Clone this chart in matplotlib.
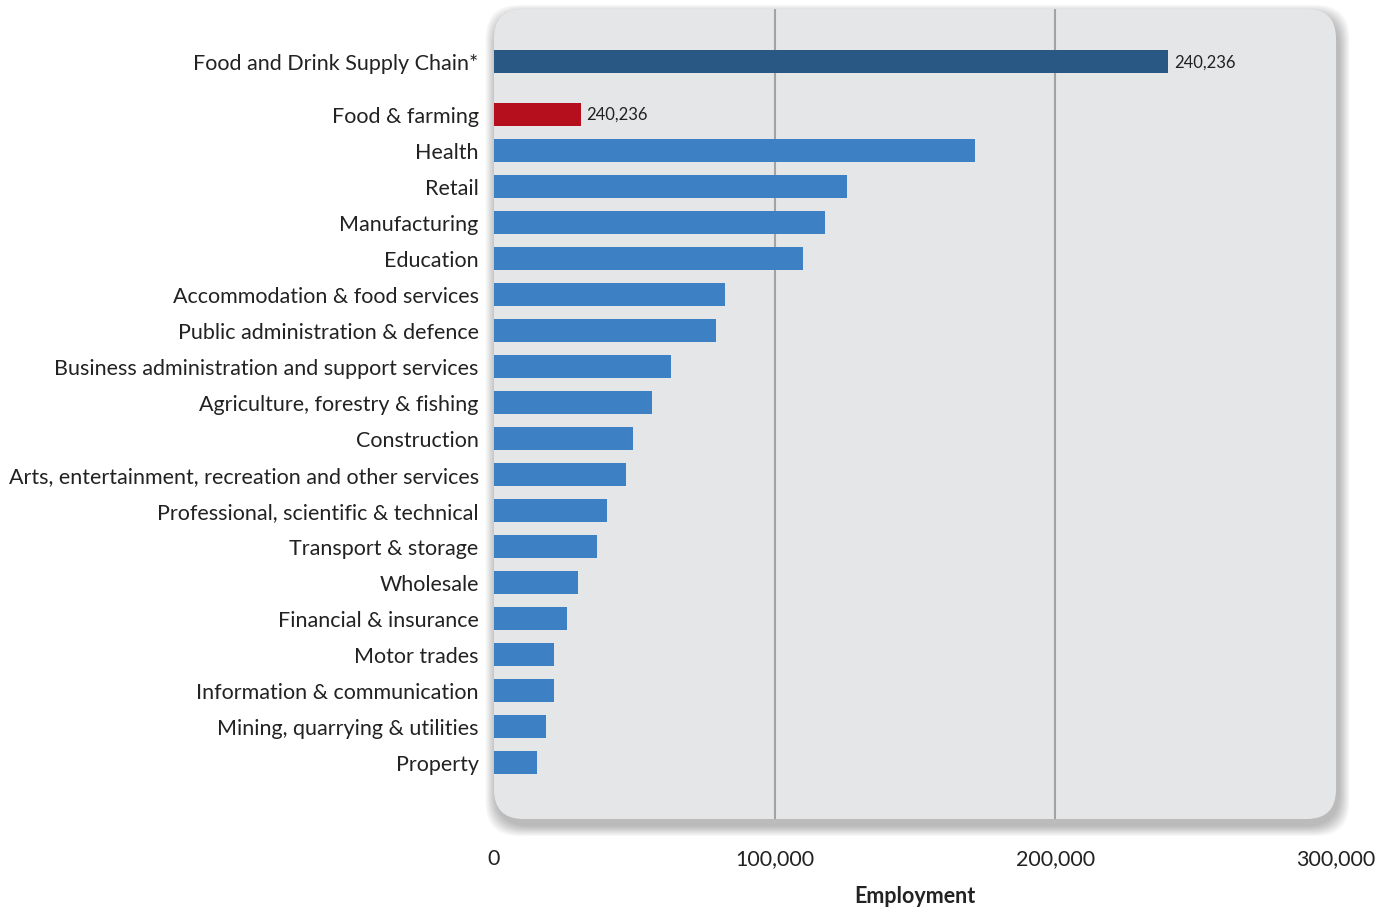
import matplotlib.pyplot as plt
from matplotlib.patches import FancyBboxPatch

plt.rcParams['font.family'] = ['Lato', 'DejaVu Sans']

# employment by sector
sectors = ["Food and Drink Supply Chain*", "Food & farming", "Health", "Retail",
           "Manufacturing", "Education", "Accommodation & food services",
           "Public administration & defence",
           "Business administration and support services",
           "Agriculture, forestry & fishing", "Construction",
           "Arts, entertainment, recreation and other services",
           "Professional, scientific & technical", "Transport & storage",
           "Wholesale", "Financial & insurance", "Motor trades",
           "Information & communication", "Mining, quarrying & utilities",
           "Property"]
employment = [240236, 31000, 171500, 125600, 118100, 110000, 82200, 79000,
              63000, 56200, 49500, 47000, 40200, 36700, 29900, 26000, 21400,
              21400, 18500, 15300]
value_labels = {0: "240,236", 1: "240,236"}

x_ticks = [0, 100000, 200000, 300000]
x_tick_labels = ["0", "100,000", "200,000", "300,000"]

colors = ["#2a5885", "#b50e1c"] + ["#3d80c3"] * (len(sectors) - 2)
# supply chain bar sits a bit apart from the sector bars
ypos = [-1.47] + list(range(len(sectors) - 1))

fig = plt.figure(figsize=(13.92, 9.12), dpi=100)
ax = fig.add_axes([494 / 1392, 1 - 820 / 912, 842 / 1392, 810 / 912])
ax.patch.set_visible(False)

# rounded grey panel with a soft shadow (stacked faint layers)
n = 12
for i in range(n):
    grow = (n - i) * 0.0022
    sh = FancyBboxPatch((0.003 - grow / 2, -0.008 - grow / 2), 1 + grow, 1 + grow,
                        boxstyle="round,pad=0,rounding_size=0.04",
                        transform=ax.transAxes, facecolor="#000000", alpha=0.025,
                        edgecolor="none", clip_on=False, zorder=0,
                        mutation_aspect=842 / 810)
    ax.add_patch(sh)
panel = FancyBboxPatch((0, 0), 1, 1, boxstyle="round,pad=0,rounding_size=0.035",
                       transform=ax.transAxes, facecolor="#e5e6e8",
                       edgecolor="none", clip_on=False, zorder=0.5,
                       mutation_aspect=842 / 810)
ax.add_patch(panel)

for gx in x_ticks[1:3]:
    ax.axvline(gx, color="#a3a3a3", lw=1.5, zorder=1)

ax.barh(ypos, employment, height=0.64, color=colors, zorder=2)

for i, txt in value_labels.items():
    ax.text(employment[i] + 2000, ypos[i], txt, va="center", ha="left",
            fontsize=12, color="#222222", zorder=3)

ax.set_xlim(0, 300000)
ax.set_ylim(19.58, -2.92)
ax.set_yticks(ypos)
ax.set_yticklabels(sectors, fontsize=15.5, color="#222222")
ax.set_xticks(x_ticks)
ax.set_xticklabels(x_tick_labels, fontsize=15.5, color="#222222")
ax.tick_params(axis="y", length=0, pad=11)
ax.tick_params(axis="x", length=0, pad=21)
for s in ax.spines.values():
    s.set_visible(False)

ax.set_xlabel("Employment", fontsize=15.5, fontweight="bold", color="#222222",
              labelpad=12)

fig.savefig("out.png", dpi=100)
